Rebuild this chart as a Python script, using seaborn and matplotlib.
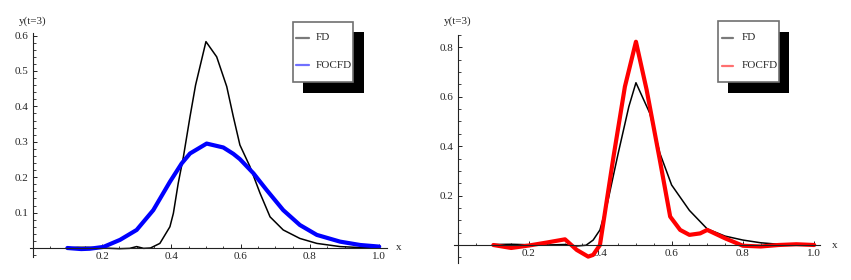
import numpy as np
import pandas as pd
import matplotlib
matplotlib.use("Agg")
import matplotlib.pyplot as plt
import seaborn as sns
from matplotlib.ticker import MultipleLocator
from matplotlib.patches import Rectangle
from matplotlib.lines import Line2D

# ---------------- data ----------------
left_x_fd = [0.1, 0.13, 0.16, 0.2, 0.25, 0.28, 0.3, 0.32, 0.34, 0.367, 0.396, 0.406, 0.42,
             0.435, 0.454, 0.47, 0.5, 0.531, 0.56, 0.579, 0.598, 0.627, 0.656, 0.685, 0.723,
             0.771, 0.82, 0.887, 0.95, 1.0]
left_fd = [0.0, 0.002, 0.002, 0.0, -0.002, -0.001, 0.004, -0.001, 0.0, 0.013, 0.06, 0.098, 0.183,
           0.258, 0.371, 0.46, 0.583, 0.54, 0.456, 0.371, 0.291, 0.23, 0.155, 0.088, 0.051,
           0.027, 0.013, 0.004, 0.001, 0.0]

left_x_focfd = [0.1, 0.14, 0.165, 0.204, 0.252, 0.3, 0.348, 0.396, 0.43, 0.454, 0.502, 0.55,
                0.579, 0.598, 0.637, 0.675, 0.723, 0.771, 0.82, 0.887, 0.945, 1.0]
left_focfd = [0.0, -0.003, -0.002, 0.003, 0.023, 0.051, 0.107, 0.187, 0.239, 0.267, 0.295, 0.284,
              0.266, 0.251, 0.211, 0.164, 0.107, 0.065, 0.037, 0.018, 0.0085, 0.004]

right_x_fd = [0.1, 0.15, 0.2, 0.25, 0.3, 0.333, 0.36, 0.38, 0.399, 0.42, 0.45, 0.48, 0.5,
              0.539, 0.567, 0.6, 0.65, 0.7, 0.75, 0.8, 0.85, 0.9, 1.0]
right_fd = [0.002, 0.003, 0.001, 0.0, 0.002, -0.004, -0.001, 0.02, 0.061, 0.17, 0.37, 0.56, 0.657,
            0.533, 0.372, 0.243, 0.14, 0.065, 0.036, 0.02, 0.009, 0.003, 0.0]

right_x_focfd = [0.1, 0.15, 0.2, 0.25, 0.301, 0.334, 0.366, 0.38, 0.399, 0.437, 0.469, 0.5, 0.53,
                 0.567, 0.596, 0.624, 0.65, 0.68, 0.7, 0.75, 0.8, 0.85, 0.9, 0.95, 1.0]
right_focfd = [0.0, -0.012, -0.002, 0.01, 0.023, -0.02, -0.047, -0.04, 0.0, 0.357, 0.641, 0.823, 0.628,
               0.344, 0.115, 0.061, 0.041, 0.047, 0.061, 0.027, -0.003, -0.006, 0.0, 0.003, 0.0]

x_ticks = [0.2, 0.4, 0.6, 0.8, 1.0]
x_tick_labels = ["0.2", "0.4", "0.6", "0.8", "1.0"]
left_y_ticks = [0.1, 0.2, 0.3, 0.4, 0.5, 0.6]
left_y_tick_labels = ["0.1", "0.2", "0.3", "0.4", "0.5", "0.6"]
right_y_ticks = [0.2, 0.4, 0.6, 0.8]
right_y_tick_labels = ["0.2", "0.4", "0.6", "0.8"]
legend_labels = ["FD", "FOCFD"]
y_label = "y(t=3)"
x_label = "x"

# ---------------- style ----------------
sns.set_style("white")
plt.rcParams["font.family"] = ["Liberation Serif", "DejaVu Serif"]
plt.rcParams["font.size"] = 8

W, H = 851, 280
fig = plt.figure(figsize=(W / 100, H / 100), dpi=100)
FS = 8


def fx(px):
    return px / W


def fy(py):
    return 1 - py / H


def make_axes(x_left_px, x_right_px, y_top_px, y_bot_px):
    return fig.add_axes([fx(x_left_px), fy(y_bot_px),
                         (x_right_px - x_left_px) / W, (y_bot_px - y_top_px) / H])


axis_color = "#222222"


def style_axes(ax, xlim, ylim, yticks, ylabels, yminor):
    ax.set_xlim(*xlim)
    ax.set_ylim(*ylim)
    for s in ["top", "right"]:
        ax.spines[s].set_visible(False)
    for s in ["left", "bottom"]:
        ax.spines[s].set_position(("data", 0))
        ax.spines[s].set_color(axis_color)
        ax.spines[s].set_linewidth(0.8)
    ax.set_xticks(x_ticks)
    ax.set_xticklabels(x_tick_labels)
    ax.set_yticks(yticks)
    ax.set_yticklabels(ylabels)
    ax.xaxis.set_minor_locator(MultipleLocator(0.05))
    ax.yaxis.set_minor_locator(MultipleLocator(yminor))
    ax.tick_params(which="both", bottom=True, left=True, top=False, right=False)
    ax.tick_params(which="major", direction="in", length=3, width=0.7, color=axis_color,
                   labelsize=FS, pad=3)
    ax.tick_params(which="minor", direction="in", length=1.8, width=0.6, color=axis_color)
    ax.set_xlabel("")
    ax.set_ylabel("")
    ax.patch.set_alpha(0)
    ax.grid(False)


def legend_box(box, shadow, fd_line, focfd_line, text_x, y1, y2, focfd_color):
    fig.add_artist(Rectangle((fx(shadow[0]), fy(shadow[3])),
                             (shadow[2] - shadow[0]) / W, (shadow[3] - shadow[1]) / H,
                             transform=fig.transFigure, facecolor="black", edgecolor="none",
                             zorder=5))
    fig.add_artist(Rectangle((fx(box[0]), fy(box[3])),
                             (box[2] - box[0]) / W, (box[3] - box[1]) / H,
                             transform=fig.transFigure, facecolor="white", edgecolor="#707070",
                             linewidth=1.2, zorder=6))
    fig.add_artist(Line2D([fx(fd_line[0]), fx(fd_line[1])], [fy(y1), fy(y1)],
                          transform=fig.transFigure, color="#7a7a7a", lw=1.6, zorder=7))
    fig.add_artist(Line2D([fx(focfd_line[0]), fx(focfd_line[1])], [fy(y2), fy(y2)],
                          transform=fig.transFigure, color=focfd_color, lw=1.6, zorder=7))
    fig.text(fx(text_x), fy(y1), legend_labels[0], ha="left", va="center", fontsize=FS, zorder=8)
    fig.text(fx(text_x), fy(y2), legend_labels[1], ha="left", va="center", fontsize=FS, zorder=8)


# ---------------- left panel ----------------
lxlim = (-0.0085, 1.022)
lylim = (-0.025, 0.607)
ax1 = make_axes(32.7 + lxlim[0] * 346.5, 32.7 + lxlim[1] * 346.5,
                248 - lylim[1] * 354, 248 - lylim[0] * 354)
df_lfd = pd.DataFrame({"x": left_x_fd, "y": left_fd})
df_lfo = pd.DataFrame({"x": left_x_focfd, "y": left_focfd})
sns.lineplot(data=df_lfd, x="x", y="y", ax=ax1, color="black", lw=1.1, sort=False,
             estimator=None)
sns.lineplot(data=df_lfo, x="x", y="y", ax=ax1, color="#0000ff", lw=3.0, sort=False,
             estimator=None)
style_axes(ax1, lxlim, lylim, left_y_ticks, left_y_tick_labels, 0.02)
fig.text(fx(33), fy(21), y_label, ha="center", va="center", fontsize=FS)
fig.text(fx(396), fy(248), x_label, ha="left", va="center", fontsize=FS)
legend_box((292.7, 21.7, 353.3, 82), (303, 32, 364, 92.7), (296, 308.7), (296, 308.7),
           316, 37.7, 65.3, "#7070ff")

# ---------------- right panel ----------------
rxlim = (-0.01, 1.016)
rylim = (-0.073, 0.85)
ax2 = make_axes(457.7 + rxlim[0] * 356.5, 457.7 + rxlim[1] * 356.5,
                245 - rylim[1] * 247, 245 - rylim[0] * 247)
df_rfd = pd.DataFrame({"x": right_x_fd, "y": right_fd})
df_rfo = pd.DataFrame({"x": right_x_focfd, "y": right_focfd})
sns.lineplot(data=df_rfd, x="x", y="y", ax=ax2, color="black", lw=1.1, sort=False,
             estimator=None)
sns.lineplot(data=df_rfo, x="x", y="y", ax=ax2, color="#ff0000", lw=3.0, sort=False,
             estimator=None)
style_axes(ax2, rxlim, rylim, right_y_ticks, right_y_tick_labels, 0.05)
fig.text(fx(458), fy(21), y_label, ha="center", va="center", fontsize=FS)
fig.text(fx(831.5), fy(245), x_label, ha="left", va="center", fontsize=FS)
legend_box((717.7, 21, 779, 81.7), (728.3, 32.3, 789, 92.7), (721.7, 733.3), (721.7, 733.3),
           741.7, 37.7, 65.7, "#ff7070")

fig.savefig("out.png", dpi=100)
